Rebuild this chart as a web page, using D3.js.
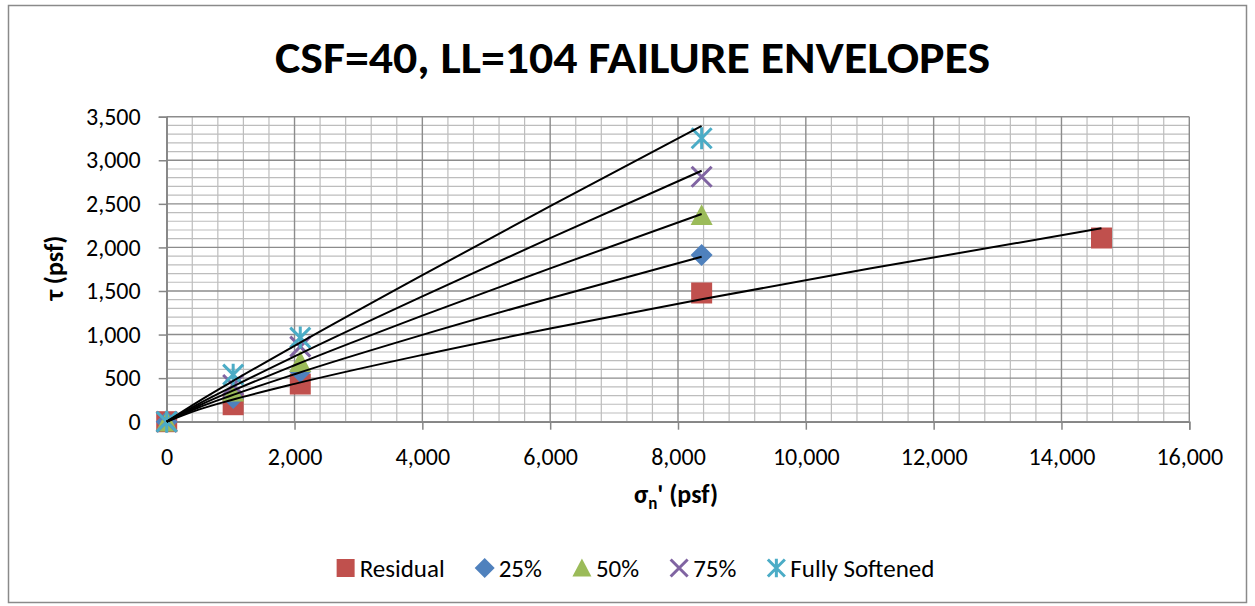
<!DOCTYPE html>
<html>
<head>
<meta charset="utf-8">
<script src="https://cdn.jsdelivr.net/npm/d3@7"></script>
<style>
  html, body { margin: 0; padding: 0; background: #fff; }
  svg { display: block; }
  text { font-family: Carlito, Calibri, "Open Sans", sans-serif; fill: #000; }
</style>
</head>
<body>
<svg id="chart" width="1255" height="606"></svg>
<script>
// Normal stress (psf) of the test points
const sigmaTests = [0, 1040, 2090, 8370];
const sigmaResidualTests = [0, 1040, 2090, 8370, 14626];

// Shear strength (psf) per softening state
const tauResidual = [0, 195, 432, 1477, 2108];
const tau25 = [0, 272, 574, 1913];
const tau50 = [0, 344, 685, 2370];
const tau75 = [0, 421, 861, 2811];
const tauFullySoftened = [0, 540, 965, 3252];

// Failure envelope curves (psf)
const envSigma = [0, 500, 1000, 2000, 4000, 6000, 8370];
const envSigmaResidual = [0, 500, 1000, 2000, 4000, 6000, 8370, 11000, 14626];
const envResidual = [0, 139, 246, 434, 766, 1069, 1405, 1757, 2219];
const env25 = [0, 163, 298, 545, 996, 1417, 1893];
const env50 = [0, 183, 345, 648, 1217, 1760, 2383];
const env75 = [0, 204, 391, 750, 1439, 2106, 2880];
const envFullySoftened = [0, 233, 451, 871, 1682, 2473, 3393];

// Axis ticks
const xTicks = [0, 2000, 4000, 6000, 8000, 10000, 12000, 14000, 16000];
const yTicks = [0, 500, 1000, 1500, 2000, 2500, 3000, 3500];

const seriesNames = ["Residual", "25%", "50%", "75%", "Fully Softened"];
const seriesColors = ["#C0504D", "#4F81BD", "#9BBB59", "#8064A2", "#4BACC6"];
const seriesShapes = ["square", "diamond", "triangle", "times", "asterisk"];

const series = [
  { sigma: sigmaResidualTests, tau: tauResidual, envX: envSigmaResidual, envY: envResidual },
  { sigma: sigmaTests, tau: tau25, envX: envSigma, envY: env25 },
  { sigma: sigmaTests, tau: tau50, envX: envSigma, envY: env50 },
  { sigma: sigmaTests, tau: tau75, envX: envSigma, envY: env75 },
  { sigma: sigmaTests, tau: tauFullySoftened, envX: envSigma, envY: envFullySoftened }
].map((s, i) => ({ ...s, name: seriesNames[i], color: seriesColors[i], shape: seriesShapes[i] }));

const svg = d3.select("#chart");
const W = 1255, H = 606;
const FONT = 'Carlito, Calibri, "Open Sans", sans-serif';

// Chart frame
svg.append("rect").attr("x", 0).attr("y", 0).attr("width", W).attr("height", H).attr("fill", "#fff");
svg.append("rect")
  .attr("x", 8.5).attr("y", 5.5).attr("width", 1238).attr("height", 597)
  .attr("fill", "none").attr("stroke", "#8a8a8a").attr("stroke-width", 1.5);

const plot = { left: 166.7, right: 1189.3, top: 116.7, bottom: 421.7 };
const x = d3.scaleLinear().domain([0, 16000]).range([plot.left, plot.right]);
const y = d3.scaleLinear().domain([0, 3500]).range([plot.bottom, plot.top]);

// Gridlines
const grid = svg.append("g");
const minorX = d3.range(0, 16001, 400).filter(v => v % 2000 !== 0);
const minorY = d3.range(0, 3501, 100).filter(v => v % 500 !== 0);
grid.selectAll(".mx").data(minorX).join("line")
  .attr("x1", d => x(d)).attr("x2", d => x(d))
  .attr("y1", plot.top).attr("y2", plot.bottom)
  .attr("stroke", "#bdbdbd").attr("stroke-width", 1.2);
grid.selectAll(".my").data(minorY).join("line")
  .attr("y1", d => y(d)).attr("y2", d => y(d))
  .attr("x1", plot.left).attr("x2", plot.right)
  .attr("stroke", "#bdbdbd").attr("stroke-width", 1.2);
grid.selectAll(".Mx").data(xTicks).join("line")
  .attr("x1", d => x(d)).attr("x2", d => x(d))
  .attr("y1", plot.top).attr("y2", plot.bottom)
  .attr("stroke", "#8c8c8c").attr("stroke-width", 1.4);
grid.selectAll(".My").data(yTicks).join("line")
  .attr("y1", d => y(d)).attr("y2", d => y(d))
  .attr("x1", plot.left).attr("x2", plot.right)
  .attr("stroke", "#8c8c8c").attr("stroke-width", 1.4);

// Axes
const fmt = d3.format(",");
const yAxis = svg.append("g")
  .attr("transform", `translate(${plot.left},0)`)
  .call(d3.axisLeft(y).tickValues(yTicks).tickSize(8).tickPadding(18).tickFormat(fmt));
const xAxis = svg.append("g")
  .attr("transform", `translate(0,${plot.bottom})`)
  .call(d3.axisBottom(x).tickValues(xTicks).tickSize(8).tickPadding(18).tickFormat(fmt));
[xAxis, yAxis].forEach(a => {
  a.select(".domain").attr("stroke", "#868686").attr("stroke-width", 1.5);
  a.selectAll(".tick line").attr("stroke", "#868686").attr("stroke-width", 1.5);
  a.selectAll(".tick text")
    .style("font-family", FONT)
    .attr("font-size", 24).attr("fill", "#222");
});

// Marker shapes
function markerPath(shape, s) {
  const h = s / 2;
  switch (shape) {
    case "square": return `M${-h},${-h}H${h}V${h}H${-h}Z`;
    case "diamond": return `M0,${-h}L${h},0L0,${h}L${-h},0Z`;
    case "triangle": return `M0,${-h}L${h},${h * 0.9}L${-h},${h * 0.9}Z`;
    case "times": return `M${-h},${-h}L${h},${h}M${h},${-h}L${-h},${h}`;
    case "asterisk": return `M${-h},${-h}L${h},${h}M${h},${-h}L${-h},${h}M0,${-h * 1.1}V${h * 1.1}`;
  }
}
const stroked = shape => shape === "times" || shape === "asterisk";

function drawMarker(g, shape, color, size) {
  const p = g.append("path").attr("d", markerPath(shape, size));
  if (stroked(shape)) p.attr("fill", "none").attr("stroke", color).attr("stroke-width", 3);
  else p.attr("fill", color);
  return p;
}

// Data markers
const marks = svg.append("g");
series.forEach(s => {
  s.sigma.forEach((sv, i) => {
    const g = marks.append("g").attr("transform", `translate(${x(sv)},${y(s.tau[i])})`);
    const size = s.shape === "square" ? 21 : s.shape === "diamond" ? 22 : s.shape === "triangle" ? 22 : 20;
    drawMarker(g, s.shape, s.color, size);
  });
});

// Failure envelopes
const line = d3.line().x(d => x(d[0])).y(d => y(d[1])).curve(d3.curveMonotoneX);
svg.append("g").selectAll("path").data(series).join("path")
  .attr("d", s => line(s.envX.map((v, i) => [v, s.envY[i]])))
  .attr("fill", "none").attr("stroke", "#000").attr("stroke-width", 2);

// Title
svg.append("text")
  .attr("x", 632.5).attr("y", 73)
  .attr("text-anchor", "middle")
  .attr("font-size", 44).attr("font-weight", "bold")
  .attr("textLength", 715).attr("lengthAdjust", "spacingAndGlyphs")
  .text("CSF=40, LL=104 FAILURE ENVELOPES");

// Axis titles
svg.append("text")
  .attr("transform", "translate(63,268) rotate(-90)")
  .attr("text-anchor", "middle")
  .attr("font-size", 26).attr("font-weight", "bold")
  .text("τ (psf)");
const xt = svg.append("text")
  .attr("x", 676).attr("y", 503)
  .attr("text-anchor", "middle")
  .attr("font-size", 26).attr("font-weight", "bold");
xt.append("tspan").text("σ");
xt.append("tspan").attr("font-size", 17).attr("dy", 6).text("n");
xt.append("tspan").attr("dy", -6).text("' (psf)");

// Legend
const legend = svg.append("g");
const legendGap = 31;
let cx = 0;
series.forEach(s => {
  const g = legend.append("g").attr("transform", `translate(${cx},0)`);
  const size = s.shape === "square" ? 18 : s.shape === "diamond" ? 20 : s.shape === "triangle" ? 19 : 17;
  drawMarker(g.append("g").attr("transform", "translate(9,0)"), s.shape, s.color, size);
  const t = g.append("text").attr("x", 23).attr("y", 8.5).attr("font-size", 25).text(s.name);
  const w = 23 + t.node().getComputedTextLength();
  cx += w + legendGap;
});
const legendWidth = cx - legendGap;
legend.attr("transform", `translate(${635.5 - legendWidth / 2},568)`);
</script>
</body>
</html>
